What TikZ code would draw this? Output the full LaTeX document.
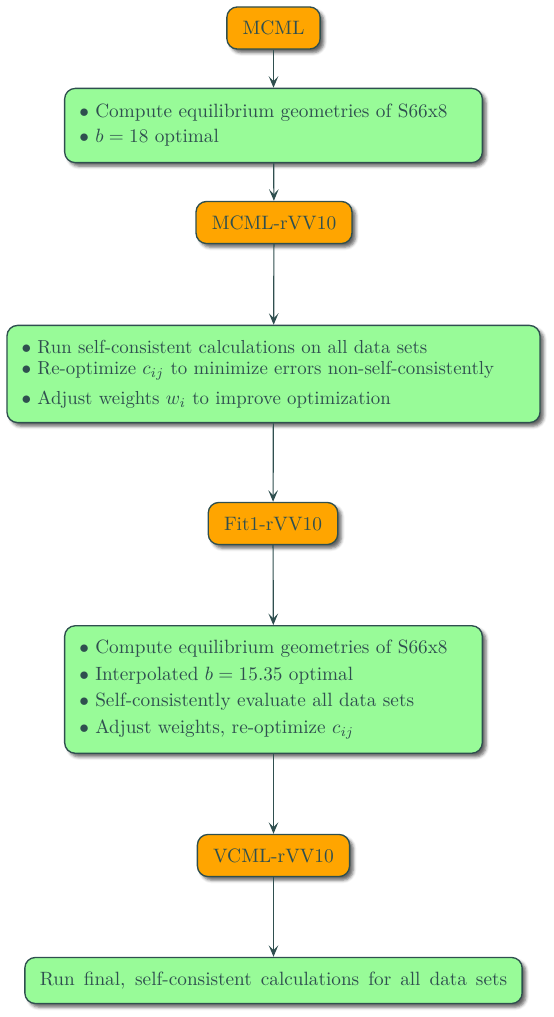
\documentclass[tikz,border=0pt]{standalone}
\usetikzlibrary{arrows.meta,shadows.blur}
\definecolor{dsg}{RGB}{47,79,79}
\definecolor{orng}{RGB}{255,165,0}
\definecolor{pgreen}{RGB}{152,251,152}
\begin{document}
\begin{tikzpicture}[x=0.52pt,y=-0.52pt,
  base/.style={draw=dsg, line width=0.7pt, rounded corners=5.5pt, text=dsg,
    inner xsep=7.6pt, inner ysep=7.5pt,
    blur shadow={shadow xshift=1.9pt, shadow yshift=-1.9pt, shadow blur radius=1.6pt, shadow opacity=60}},
  model/.style={base, fill=orng, text height=6.9pt, text depth=0pt, inner xsep=8.2pt, font=\fontsize{10.1}{12}\selectfont},
  task/.style={base, fill=pgreen, align=left},
  conn/.style={draw=dsg, line width=0.6pt, -{Stealth[length=6pt,width=5pt,inset=2.6pt]}}]
\useasboundingbox (0,0) rectangle (553,1017);
\node[model] (m1) at (273.5,28) {MCML};
\node[task, text width=202pt, inner ysep=8.3pt] (t1) at (273.5,125.5) {$\bullet$ Compute equilibrium geometries of S66x8\\[1pt]
$\bullet$ $b=18$ optimal};
\node[model] (m2) at (274,222.5) {MCML-rVV10};
\node[task, text width=262pt, font=\fontsize{9.8}{12}\selectfont] (t2) at (273.5,374) {$\bullet$ Run self-consistent calculations on all data sets\\[-1pt]
$\bullet$ Re-optimize $c_{ij}$ to minimize errors non-self-consistently\\[3.6pt]
$\bullet$ Adjust weights $w_i$ to improve optimization};
\node[model] (m3) at (273,523.5) {Fit1-rVV10};
\node[task, text width=202pt] (t3) at (273.5,689.5) {$\bullet$ Compute equilibrium geometries of S66x8\\[1.8pt]
$\bullet$ Interpolated $b=15.35$ optimal\\[1.8pt]
$\bullet$ Self-consistently evaluate all data sets\\[1.8pt]
$\bullet$ Adjust weights, re-optimize $c_{ij}$};
\node[model] (m4) at (273.5,855.5) {VCML-rVV10};
\node[task, inner xsep=7.8pt] (t4) at (273.5,980.5) {\makebox[243pt][s]{Run final, self-consistent calculations for all data sets}};
\draw[conn] (m1) -- (t1);
\draw[conn] (t1) -- (m2);
\draw[conn] (m2) -- (t2);
\draw[conn] (t2) -- (m3);
\draw[conn] (m3) -- (t3);
\draw[conn] (t3) -- (m4);
\draw[conn] (m4) -- (t4);
\end{tikzpicture}
\end{document}
